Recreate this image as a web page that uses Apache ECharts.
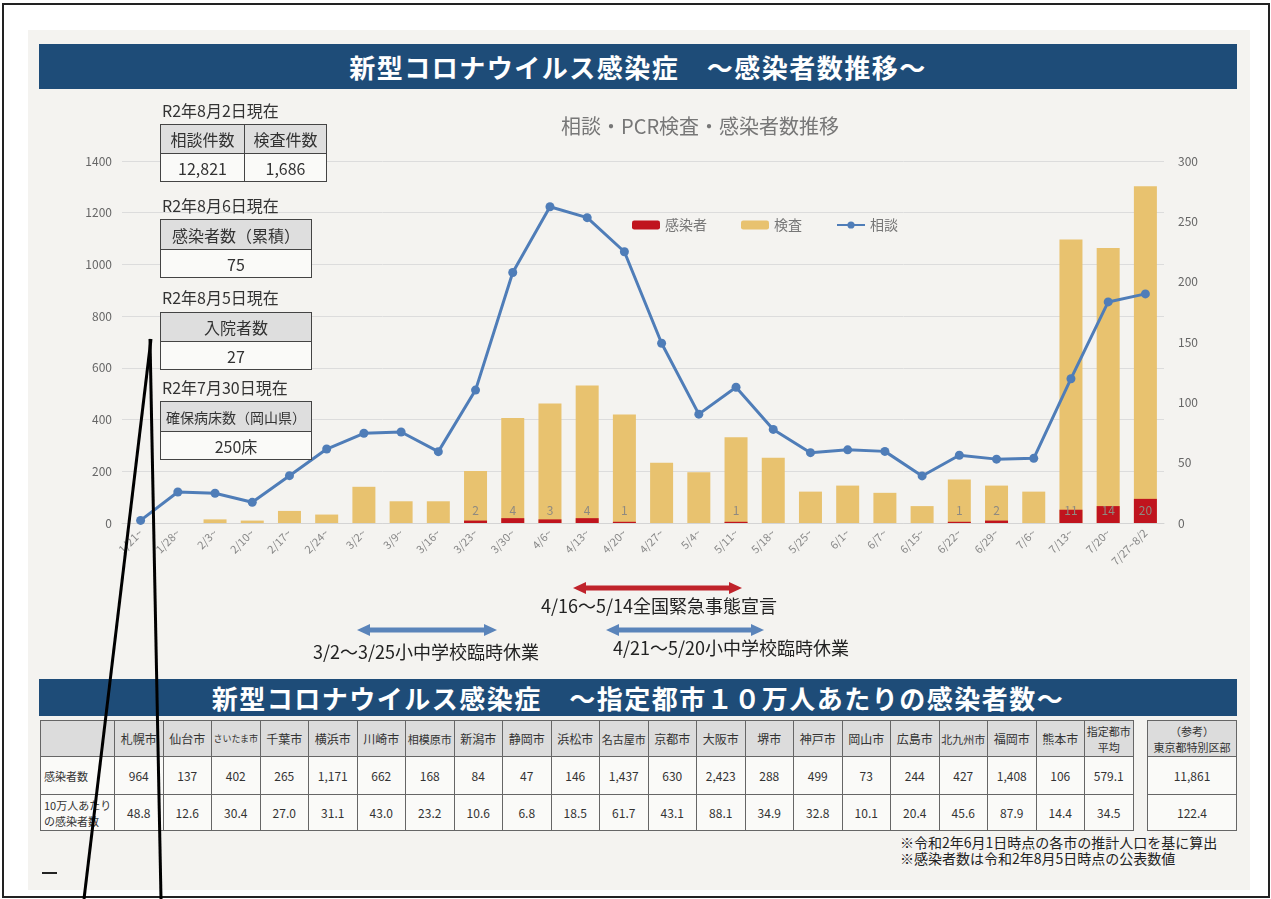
<!DOCTYPE html>
<html>
<head>
<meta charset="utf-8">
<script src="https://cdn.jsdelivr.net/npm/echarts@6/dist/echarts.min.js"></script>
<style>
  body { margin: 0; background: #fff; font-family: "Noto Sans CJK JP", "Noto Sans", sans-serif; }
  #frame { position: absolute; left: 2px; top: 3px; width: 1264px; height: 891px; border: 2px solid #222; }
  #paper { position: absolute; left: 28px; top: 30px; width: 1222px; height: 860px; background: #f4f3f0; }
  .banner { position: absolute; left: 39px; width: 1198px; background: #1e4c78; color: #fff;
            font-weight: bold; font-size: 26px; text-align: center; letter-spacing: 1.5px; }
  #chart { position: absolute; left: 0; top: 0; width: 1271px; height: 680px; }
  .date { position: absolute; left: 162px; font-size: 16px; color: #333; }
  .box { position: absolute; border-collapse: collapse; background: #fafaf8; color: #333; }
  .box td { border: 1px solid #444; text-align: center; font-size: 16px; padding: 0; }
  .box tr.h td { background: #dedede; }
  .note { position: absolute; font-size: 18px; color: #222; white-space: nowrap; }
  #cities, #ref { position: absolute; top: 720px; border-collapse: collapse; table-layout: fixed;
            font-size: 12px; color: #333; background: #fafaf8; }
  #cities td, #ref td { border: 1px solid #666; text-align: center; padding: 0; line-height: 16px;
            white-space: nowrap; overflow: hidden; }
  #cities tr.h td, #ref tr.h td { background: #dcdcdc; }
  #cities td.lab { text-align: left; padding-left: 3px; font-size: 11px; }
  #foot { position: absolute; left: 900px; top: 834px; font-size: 14px; color: #222; line-height: 16px; }
  #overlay { position: absolute; left: 0; top: 0; pointer-events: none; }
</style>
</head>
<body>
<div id="frame"></div>
<div id="paper"></div>
<div class="banner" style="top:44px;height:45px;line-height:45px;">新型コロナウイルス感染症　～感染者数推移～</div>
<div id="chart"></div>

<div class="date" style="top:98px;">R2年8月2日現在</div>
<table class="box" style="left:160px;top:124px;width:167px;">
  <tr class="h" style="height:29px;"><td style="width:83px;">相談件数</td><td>検査件数</td></tr>
  <tr style="height:28px;"><td id="consultTotal"></td><td id="testTotal"></td></tr>
</table>
<div class="date" style="top:193px;">R2年8月6日現在</div>
<table class="box" style="left:160px;top:219px;width:152px;">
  <tr class="h" style="height:30px;"><td>感染者数（累積）</td></tr>
  <tr style="height:28px;"><td id="infTotal"></td></tr>
</table>
<div class="date" style="top:285px;">R2年8月5日現在</div>
<table class="box" style="left:160px;top:312px;width:152px;">
  <tr class="h" style="height:29px;"><td>入院者数</td></tr>
  <tr style="height:28px;"><td id="hospTotal"></td></tr>
</table>
<div class="date" style="top:375px;">R2年7月30日現在</div>
<table class="box" style="left:160px;top:401px;width:152px;">
  <tr class="h" style="height:30px;"><td style="font-size:14px;">確保病床数（岡山県）</td></tr>
  <tr style="height:28px;"><td id="bedTotal"></td></tr>
</table>

<div class="note" style="left:541px;top:592px;">4/16〜5/14全国緊急事態宣言</div>
<div class="note" style="left:313px;top:638px;">3/2〜3/25小中学校臨時休業</div>
<div class="note" style="left:613px;top:634px;">4/21〜5/20小中学校臨時休業</div>

<div class="banner" style="top:679px;height:37px;line-height:37px;">新型コロナウイルス感染症　～指定都市１０万人あたりの感染者数～</div>
<table id="cities" style="left:40px;"></table>
<table id="ref" style="left:1147px;width:90px;"></table>
<div id="foot">※令和2年6月1日時点の各市の推計人口を基に算出<br>※感染者数は令和2年8月5日時点の公表数値</div>
<div style="position:absolute;left:42px;top:872px;width:15px;height:2px;background:#222;"></div>

<svg id="overlay" width="1271" height="899">
  <g id="arrows"></g>
  <line x1="151" y1="339" x2="84" y2="899" stroke="#000" stroke-width="3"/>
  <line x1="150" y1="339" x2="161" y2="899" stroke="#000" stroke-width="3"/>
</svg>

<script>
// weekly figures
const weeks = ['1/21~', '1/28~', '2/3~', '2/10~', '2/17~', '2/24~', '3/2~', '3/9~', '3/16~', '3/23~',
  '3/30~', '4/6~', '4/13~', '4/20~', '4/27~', '5/4~', '5/11~', '5/18~', '5/25~', '6/1~',
  '6/7~', '6/15~', '6/22~', '6/29~', '7/6~', '7/13~', '7/20~', '7/27~8/2']
const consult = [10, 120, 115, 80, 183, 286, 347, 352, 276, 514,
  969, 1223, 1181, 1049, 695, 421, 525, 362, 272, 283,
  277, 182, 262, 247, 250, 558, 855, 886]
const tests = [0, 0, 3, 2, 10, 7, 30, 18, 18, 43,
  87, 99, 114, 90, 50, 42, 71, 54, 26, 31,
  25, 14, 36, 31, 26, 235, 228, 279]
const infected = [0, 0, 0, 0, 0, 0, 0, 0, 0, 2,
  4, 3, 4, 1, 0, 0, 1, 0, 0, 0,
  0, 0, 1, 2, 0, 11, 14, 20]

const leftTicks = [0, 1400, 200]
const rightTicks = [0, 300, 50]

// summary boxes
const consultTotal = '12,821'
const testTotal = '1,686'
const infTotal = '75'
const hospTotal = '27'
const bedTotal = '250床'

// designated cities table
const cities = ['札幌市', '仙台市', 'さいたま市', '千葉市', '横浜市', '川崎市', '相模原市', '新潟市', '静岡市', '浜松市',
  '名古屋市', '京都市', '大阪市', '堺市', '神戸市', '岡山市', '広島市', '北九州市', '福岡市', '熊本市']
const cityCases = ['964', '137', '402', '265', '1,171', '662', '168', '84', '47', '146',
  '1,437', '630', '2,423', '288', '499', '73', '244', '427', '1,408', '106']
const cityPer100k = ['48.8', '12.6', '30.4', '27.0', '31.1', '43.0', '23.2', '10.6', '6.8', '18.5',
  '61.7', '43.1', '88.1', '34.9', '32.8', '10.1', '20.4', '45.6', '87.9', '14.4']
const avgCases = '579.1'
const avgPer100k = '34.5'
const tokyoCases = '11,861'
const tokyoPer100k = '122.4'

document.getElementById('consultTotal').textContent = consultTotal
document.getElementById('testTotal').textContent = testTotal
document.getElementById('infTotal').textContent = infTotal
document.getElementById('hospTotal').textContent = hospTotal
document.getElementById('bedTotal').textContent = bedTotal

// build the city table
function buildCities() {
  const t = document.getElementById('cities')
  let cols = '<colgroup><col style="width:74px">'
  for (let i = 0; i <= cities.length; i++) cols += '<col style="width:48.5px">'
  cols += '</colgroup>'
  let h = '<tr class="h" style="height:36px"><td></td>'
  cities.forEach(c => {
    const fs = c.length > 4 ? 'font-size:9px;' : (c.length > 3 ? 'font-size:11px;' : '')
    h += '<td style="' + fs + '">' + c + '</td>'
  })
  h += '<td style="font-size:11px">指定都市<br>平均</td></tr>'
  let r1 = '<tr style="height:38px"><td class="lab">感染者数</td>'
  cityCases.forEach(v => { r1 += '<td>' + v + '</td>' })
  r1 += '<td>' + avgCases + '</td></tr>'
  let r2 = '<tr style="height:36px"><td class="lab">10万人あたり<br>の感染者数</td>'
  cityPer100k.forEach(v => { r2 += '<td>' + v + '</td>' })
  r2 += '<td>' + avgPer100k + '</td></tr>'
  t.innerHTML = cols + h + r1 + r2

  document.getElementById('ref').innerHTML =
    '<tr class="h" style="height:36px"><td style="font-size:11px">（参考）<br>東京都特別区部</td></tr>' +
    '<tr style="height:38px"><td>' + tokyoCases + '</td></tr>' +
    '<tr style="height:36px"><td>' + tokyoPer100k + '</td></tr>'
}
buildCities()

// double headed arrows under the chart
function arrow(x1, x2, y, color) {
  const h = 6, len = 13
  return '<line x1="' + (x1 + len - 1) + '" y1="' + y + '" x2="' + (x2 - len + 1) + '" y2="' + y +
    '" stroke="' + color + '" stroke-width="5"/>' +
    '<polygon fill="' + color + '" points="' + x1 + ',' + y + ' ' + (x1 + len) + ',' + (y - h) + ' ' + (x1 + len) + ',' + (y + h) + '"/>' +
    '<polygon fill="' + color + '" points="' + x2 + ',' + y + ' ' + (x2 - len) + ',' + (y - h) + ' ' + (x2 - len) + ',' + (y + h) + '"/>'
}
document.getElementById('arrows').innerHTML =
  arrow(573, 742, 588, '#c0232b') + arrow(357, 497, 630, '#5a84ba') + arrow(606, 764, 630, '#5a84ba')

const chart = echarts.init(document.getElementById('chart'))
chart.setOption({
  animation: false,
  textStyle: { fontFamily: '"Noto Sans CJK JP", sans-serif' },
  title: {
    text: '相談・PCR検査・感染者数推移',
    left: 556,
    top: 111,
    textStyle: { color: '#777', fontSize: 20, fontWeight: 'normal' }
  },
  legend: {
    data: ['感染者', '検査', '相談'],
    left: 627,
    top: 213,
    itemWidth: 28,
    itemHeight: 9,
    itemGap: 34,
    textStyle: { color: '#777', fontSize: 14 }
  },
  grid: { left: 122, right: 107, top: 161, bottom: 157 },
  xAxis: {
    type: 'category',
    data: weeks,
    axisLine: { lineStyle: { color: '#d4d4d4' } },
    axisTick: { show: false },
    axisLabel: { rotate: 45, color: '#888', fontSize: 11, margin: 8, interval: 0 }
  },
  yAxis: [{
    type: 'value',
    min: leftTicks[0],
    max: leftTicks[1],
    interval: leftTicks[2],
    axisLabel: { color: '#666', fontSize: 12, margin: 10, formatter: v => String(v) },
    splitLine: { lineStyle: { color: '#dcdcdc' } }
  }, {
    type: 'value',
    min: rightTicks[0],
    max: rightTicks[1],
    interval: rightTicks[2],
    axisLabel: { color: '#666', fontSize: 12, margin: 14 },
    splitLine: { show: false }
  }],
  series: [{
    name: '検査',
    type: 'bar',
    yAxisIndex: 1,
    data: tests,
    barWidth: 23,
    itemStyle: { color: '#e8c26f' }
  }, {
    name: '感染者',
    type: 'bar',
    yAxisIndex: 1,
    data: infected,
    barWidth: 23,
    barGap: '-100%',
    itemStyle: { color: '#c0141e' },
    label: {
      show: true,
      position: 'insideBottom',
      distance: 7,
      color: '#8f8a80',
      fontSize: 12,
      formatter: p => (p.value > 0 ? p.value : '')
    }
  }, {
    name: '相談',
    type: 'line',
    yAxisIndex: 0,
    data: consult,
    symbol: 'circle',
    symbolSize: 9,
    z: 5,
    itemStyle: { color: '#4f7db8' },
    lineStyle: { color: '#4f7db8', width: 3 }
  }]
})
</script>
</body>
</html>
